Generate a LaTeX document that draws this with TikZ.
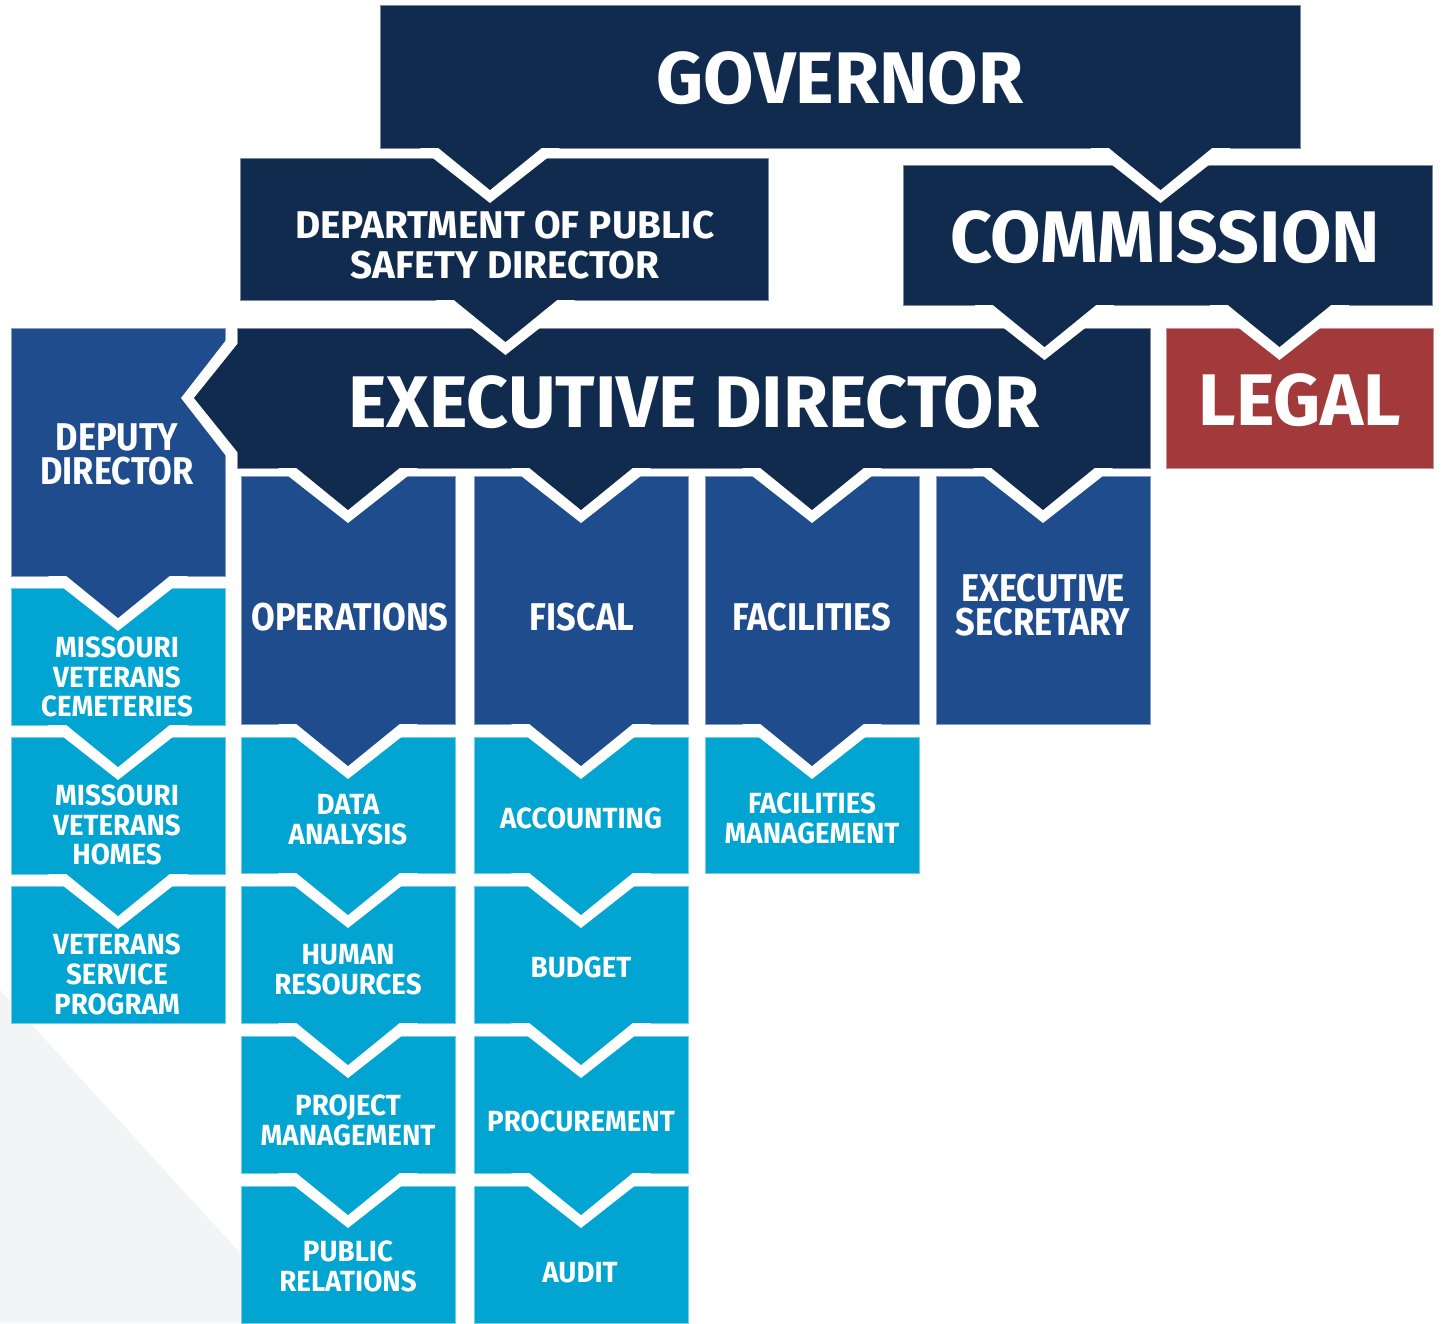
\documentclass[tikz,border=0pt]{standalone}
\usepackage{fontspec}
\setmainfont{Fira Sans}
\newfontfamily\narrowfont{Fira Sans}[FakeStretch=0.89]
\newfontfamily\smallfont{Fira Sans}[FakeStretch=0.95]
\usetikzlibrary{fit}
\definecolor{qnavy}{RGB}{17,43,79}
\definecolor{qblue}{RGB}{31,76,140}
\definecolor{qcyan}{RGB}{2,165,209}
\definecolor{qred}{RGB}{162,57,58}
\definecolor{qgray}{RGB}{243,244,246}

\begin{document}
\begin{tikzpicture}[x=0.1mm, y=-0.1mm,
  box/.style={fill=#1, draw=#1!55!white, line width=0.1mm, inner sep=0pt, outer sep=0pt},
  big/.style={text=white, inner sep=0pt, font=\bfseries\fontsize{20.8}{24}\selectfont},
  mid/.style={text=white, inner sep=0pt, align=center, font=\narrowfont\bfseries\fontsize{11}{9.7}\selectfont},
  small/.style={text=white, inner sep=0pt, align=center, font=\smallfont\bfseries\fontsize{8.3}{8.5}\selectfont}]

\fill[white] (0,0) rectangle (1442,1323);
\useasboundingbox (0,0) rectangle (1442,1323);
\fill[qgray] (0,990) -- (240,1253) -- (240,1323) -- (0,1323) -- cycle;

% boxes: name/colour/top left/bottom right
\foreach \name/\col/\xa/\ya/\xb/\yb in {
  gov/qnavy/380/5/1300/148, dps/qnavy/240/158/768/300,
  com/qnavy/903/165/1432/305, exec/qnavy/237/328/1150/468,
  legal/qred/1166/328/1433/468, dep/qblue/11/328/225/576,
  ops/qblue/241/476/455/724, fis/qblue/474/476/688/724,
  fac/qblue/705/476/919/724, sec/qblue/936/476/1150/724,
  mvc/qcyan/11/588/225/725, mvh/qcyan/11/737/225/874,
  vsp/qcyan/11/886/225/1023, data/qcyan/241/737/455/873,
  hr/qcyan/241/886/455/1023, pm/qcyan/241/1036/455/1173,
  pr/qcyan/241/1186/455/1323, acc/qcyan/474/737/688/873,
  bud/qcyan/474/886/688/1023, proc/qcyan/474/1036/688/1173,
  aud/qcyan/474/1186/688/1323, fm/qcyan/705/737/919/873}
  \node[box=\col, fit={(\xa,\ya) (\xb,\yb)}] (\name) {};

% arrow tabs hanging from a box into the one below it
\foreach \up/\dn/\dx/\col in {
  gov/dps/-14/qnavy, gov/com/-7/qnavy, dps/exec/-188/qnavy,
  com/exec/351/qnavy, com/legal/-20/qnavy,
  exec/ops/0/qnavy, exec/fis/0/qnavy, exec/fac/0/qnavy, exec/sec/0/qnavy,
  dep/mvc/0/qblue, mvc/mvh/0/qcyan, mvh/vsp/0/qcyan,
  ops/data/0/qblue, data/hr/0/qcyan, hr/pm/0/qcyan, pm/pr/0/qcyan,
  fis/acc/0/qblue, acc/bud/0/qcyan, bud/proc/0/qcyan, proc/aud/0/qcyan,
  fac/fm/0/qblue}{
  \fill[white] (\up.south -| \dn.north) ++(\dx,0) ++(-70,0) -- ++(70,55) -- ++(70,-55) -- cycle;
  \fill[\col] (\up.south -| \dn.north) ++(\dx,0) ++(-54,-2) -- ++(54,44) -- ++(54,-44) -- cycle;
}

% sideways tab into the deputy
\fill[white] (exec.west) ++(0,-72) -- ++(-56,72) -- ++(56,72) -- cycle;
\fill[qnavy] (exec.west) ++(2,-56) -- ++(-45,56) -- ++(45,56) -- cycle;

% labels
\foreach \name/\tx/\ty/\txt in {gov/840/78/GOVERNOR, com/1165/237/COMMISSION,
  exec/694/402/EXECUTIVE DIRECTOR, legal/1300/400/LEGAL}
  \node[big] (\name-t) at (\tx,\ty) {\txt};

\node[mid, font=\normalfont\bfseries\fontsize{11}{11.4}\selectfont] (dps-t) at (505,245) {DEPARTMENT OF PUBLIC\\SAFETY DIRECTOR};
\foreach \name/\tx/\ty/\txt in {dep/117/454/{DEPUTY\\DIRECTOR},
  ops/350/617/OPERATIONS, fis/582/617/FISCAL, fac/812/617/FACILITIES,
  sec/1043/605/{EXECUTIVE\\SECRETARY}}
  \node[mid] (\name-t) at (\tx,\ty) {\txt};

\foreach \name/\tx/\ty/\txt in {mvc/117/677/{MISSOURI\\VETERANS\\CEMETERIES},
  mvh/117/825/{MISSOURI\\VETERANS\\HOMES}, vsp/117/974/{VETERANS\\SERVICE\\PROGRAM},
  data/348/820/{DATA\\ANALYSIS}, hr/348/970/{HUMAN\\RESOURCES},
  pm/348/1120/{PROJECT\\MANAGEMENT}, pr/348/1266/{PUBLIC\\RELATIONS},
  acc/581/818/ACCOUNTING, bud/581/967/BUDGET, proc/581/1121/PROCUREMENT,
  aud/580/1273/AUDIT, fm/812/818/{FACILITIES\\MANAGEMENT}}
  \node[small] (\name-t) at (\tx,\ty) {\txt};

\end{tikzpicture}
\end{document}
